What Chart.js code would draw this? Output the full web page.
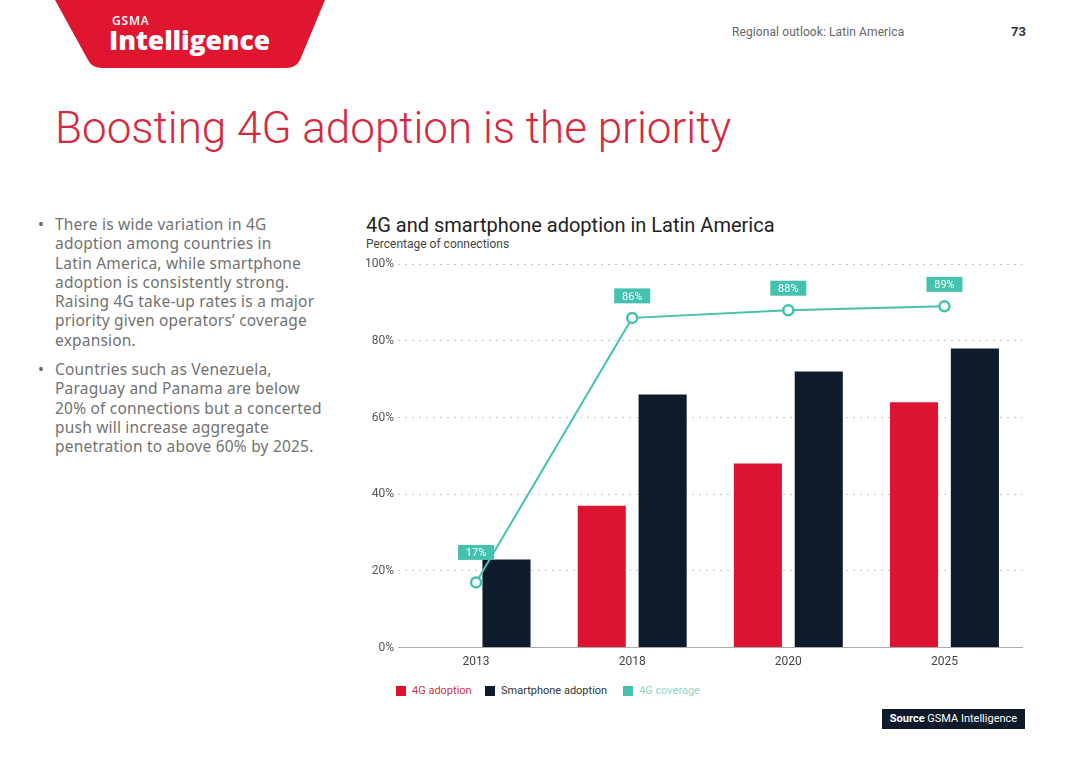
<!DOCTYPE html>
<html>
<head>
<meta charset="utf-8">
<script src="https://cdn.jsdelivr.net/npm/chart.js@4.4.0/dist/chart.umd.min.js"></script>
<style>
  html, body { margin: 0; padding: 0; background: #fff; }
  body { width: 1080px; height: 764px; position: relative; overflow: hidden; font-family: Roboto, sans-serif; }
  .logo { position: absolute; left: 0; top: 0; }
  .gsma { position: absolute; left: 112px; top: 12px; color: #fff; font: 600 12px "Open Sans", sans-serif; letter-spacing: 0.8px; }
  .intel { position: absolute; left: 109px; top: 22px; color: #fff; font: 800 26.5px "Open Sans", sans-serif; letter-spacing: -0.1px; }
  .section { position: absolute; left: 732px; top: 25px; font-size: 12px; color: #666; letter-spacing: 0.1px; }
  .page { position: absolute; left: 1011px; top: 24px; font-size: 13px; font-weight: bold; color: #333; }
  h1 { position: absolute; left: 55px; top: 102px; margin: 0; font-weight: 300; font-size: 44px; color: #d42a3e; white-space: nowrap; }
  .bullets { position: absolute; left: 38px; top: 215px; width: 330px; font: 15.5px/19.3px "Noto Sans", sans-serif; color: #727272; letter-spacing: 0.2px; }
  .bullets p { margin: 0 0 10px 0; padding-left: 17px; position: relative; }
  .bullets p::before { content: "\2022"; position: absolute; left: 0; top: 0; color: #666; }
  .ctitle { position: absolute; left: 366px; top: 213px; font-size: 20px; color: #222; white-space: nowrap; }
  .csub { position: absolute; left: 366px; top: 237px; font-size: 12px; color: #444; }
  #wrap { position: absolute; left: 360px; top: 253px; }
  .legend { position: absolute; left: 396px; top: 684px; font-size: 11px; white-space: nowrap; }
  .legend span { position: absolute; top: 0; line-height: 14px; }
  .legend i { position: absolute; top: 2px; width: 10px; height: 10px; }
  .source { position: absolute; left: 882px; top: 709px; width: 143px; height: 20px; background: #0e1b2b; color: #fff; font-size: 11px; line-height: 20px; text-align: center; }
</style>
</head>
<body>
<svg class="logo" width="340" height="80">
  <path d="M55 0 L325 0 L300 60 Q296 68 286 68 L102 68 Q92 68 88 60 Z" fill="#e0152f"/>
</svg>
<div class="gsma">GSMA</div>
<div class="intel">Intelligence</div>
<div class="section">Regional outlook: Latin America</div>
<div class="page">73</div>
<h1>Boosting 4G adoption is the priority</h1>
<div class="bullets">
  <p>There is wide variation in 4G<br>adoption among countries in<br>Latin America, while smartphone<br>adoption is consistently strong.<br>Raising 4G take-up rates is a major<br>priority given operators’ coverage<br>expansion.</p>
  <p>Countries such as Venezuela,<br>Paraguay and Panama are below<br>20% of connections but a concerted<br>push will increase aggregate<br>penetration to above 60% by 2025.</p>
</div>
<div class="ctitle">4G and smartphone adoption in Latin America</div>
<div class="csub">Percentage of connections</div>
<div id="wrap"><canvas id="chart" width="670" height="428"></canvas></div>
<div class="legend" id="legend"></div>
<div class="source"><b>Source</b> GSMA Intelligence</div>
<script>
const categories = ['2013', '2018', '2020', '2025'];
const adoption4G = [null, 37, 48, 64];
const smartphoneAdoption = [23, 66, 72, 78];
const coverage4G = [17, 86, 88, 89];
const yTicks = [0, 20, 40, 60, 80, 100];
const seriesNames = ['4G adoption', 'Smartphone adoption', '4G coverage'];

const RED = '#dc1430';
const NAVY = '#0e1b2b';
const TEAL = '#45c2ad';

// teal value boxes above the coverage line
const coverageLabels = {
  id: 'coverageLabels',
  afterDatasetsDraw(chart) {
    const ctx = chart.ctx;
    const meta = chart.getDatasetMeta(2);
    ctx.save();
    meta.data.forEach((pt, i) => {
      const lift = i === 0 ? 30 : 22;
      const w = 36, h = 15;
      ctx.fillStyle = TEAL;
      ctx.fillRect(pt.x - w / 2, pt.y - lift - h / 2, w, h);
      ctx.fillStyle = '#fff';
      ctx.font = '11px Roboto';
      ctx.textAlign = 'center';
      ctx.textBaseline = 'middle';
      ctx.fillText(coverage4G[i] + '%', pt.x, pt.y - lift + 1);
    });
    ctx.restore();
  }
};

const ctx = document.getElementById('chart').getContext('2d');
const chart = new Chart(ctx, {
  type: 'bar',
  data: {
    labels: categories,
    datasets: [{
      label: seriesNames[0],
      data: adoption4G,
      backgroundColor: RED,
      order: 2
    }, {
      label: seriesNames[1],
      data: smartphoneAdoption,
      backgroundColor: NAVY,
      order: 2
    }, {
      type: 'line',
      label: seriesNames[2],
      data: coverage4G,
      borderColor: TEAL,
      backgroundColor: TEAL,
      borderWidth: 2,
      pointRadius: 5,
      pointBorderWidth: 2.5,
      pointBackgroundColor: '#fff',
      pointBorderColor: TEAL,
      tension: 0,
      order: 0
    }]
  },
  options: {
    responsive: false,
    animation: false,
    layout: { padding: { top: 0, right: 6, left: 0, bottom: 5 } },
    datasets: {
      bar: { categoryPercentage: 0.78, barPercentage: 0.79 }
    },
    plugins: {
      tooltip: { enabled: false },
      legend: { display: false }
    },
    scales: {
      x: {
        grid: { display: false, drawTicks: false },
        border: { display: true, color: '#aaa', width: 1 },
        ticks: { color: '#444', font: { family: 'Roboto', size: 12 }, padding: 7 }
      },
      y: {
        min: 0,
        max: 100,
        afterFit(scale) { scale.width = 38; },
        afterBuildTicks(scale) { scale.ticks = yTicks.map(v => ({ value: v })); },
        grid: { color: '#c8c8c8', lineWidth: 1, drawTicks: false },
        border: { display: false, dash: [2, 5] },
        ticks: {
          color: '#555',
          padding: 4,
          font: { family: 'Roboto', size: 12 },
          callback: v => v + '%'
        }
      }
    }
  },
  plugins: [coverageLabels]
});

// legend drawn as html, colours taken from the datasets
const legendPos = [0, 89, 227];
const legendText = ['#c8344a', '#333', '#8fd5c8'];
document.getElementById('legend').innerHTML = chart.data.datasets.map((ds, i) =>
  `<i style="left:${legendPos[i]}px;background:${ds.backgroundColor}"></i>` +
  `<span style="left:${legendPos[i] + 16}px;color:${legendText[i]}">${ds.label}</span>`
).join('');
</script>
</body>
</html>
